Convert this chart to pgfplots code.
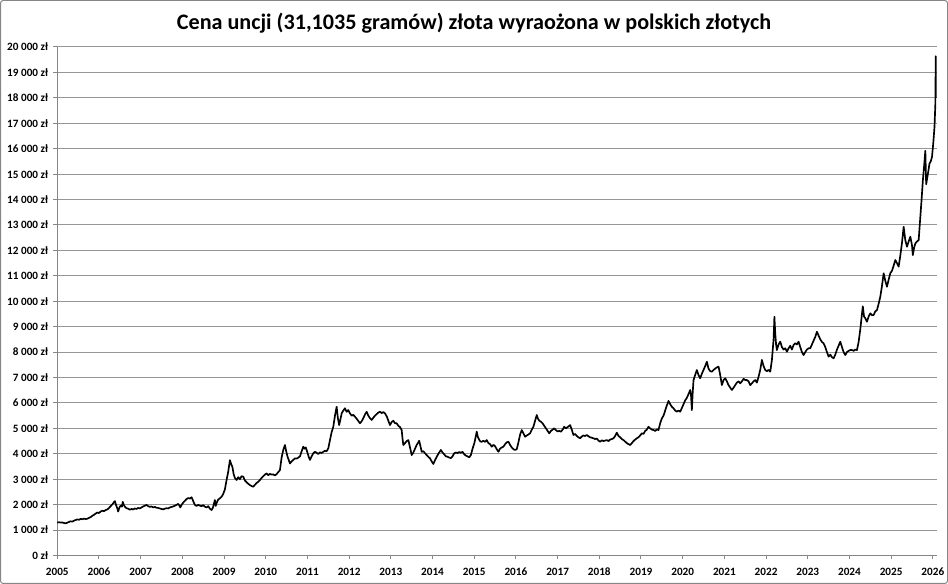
\documentclass[border=0pt]{standalone}
\usepackage{fontspec}
\setmainfont{Carlito}
\usepackage{pgfplots}
\pgfplotsset{compat=1.18}
\definecolor{gridgray}{RGB}{150,150,150}
\definecolor{axisgray}{RGB}{134,134,134}
\definecolor{bordergray}{RGB}{134,134,134}
\pgfplotstableread{
x y
2005.00 1290
2005.04 1310
2005.08 1295
2005.12 1300
2005.16 1280
2005.20 1265
2005.24 1290
2005.28 1320
2005.32 1345
2005.36 1330
2005.40 1370
2005.44 1395
2005.48 1420
2005.52 1405
2005.56 1440
2005.60 1425
2005.64 1450
2005.68 1435
2005.72 1445
2005.76 1480
2005.80 1510
2005.84 1560
2005.88 1600
2005.92 1650
2005.96 1690
2006.00 1670
2006.04 1730
2006.08 1760
2006.12 1740
2006.16 1790
2006.20 1810
2006.24 1870
2006.28 1940
2006.32 2010
2006.36 2100
2006.38 2140
2006.41 1980
2006.44 1850
2006.46 1730
2006.49 1890
2006.52 1960
2006.55 1920
2006.57 2110
2006.60 1970
2006.63 1900
2006.66 1860
2006.70 1840
2006.74 1800
2006.78 1830
2006.82 1810
2006.86 1850
2006.90 1830
2006.94 1870
2006.98 1850
2007.02 1890
2007.06 1930
2007.10 1960
2007.14 1990
2007.18 1940
2007.22 1910
2007.26 1930
2007.30 1890
2007.34 1910
2007.38 1880
2007.42 1870
2007.46 1850
2007.50 1830
2007.54 1815
2007.58 1840
2007.62 1860
2007.66 1850
2007.70 1890
2007.74 1910
2007.78 1930
2007.82 1960
2007.86 1990
2007.90 2030
2007.93 1960
2007.95 1890
2007.98 1990
2008.02 2080
2008.06 2150
2008.10 2220
2008.14 2260
2008.18 2240
2008.22 2290
2008.25 2180
2008.28 2060
2008.30 1990
2008.34 1950
2008.38 1990
2008.42 1960
2008.46 1940
2008.50 1980
2008.54 1920
2008.58 1890
2008.62 1940
2008.66 1840
2008.70 1790
2008.73 1870
2008.76 2050
2008.78 2180
2008.80 1950
2008.83 2100
2008.86 2200
2008.90 2250
2008.94 2310
2008.98 2420
2009.02 2600
2009.06 2970
2009.10 3300
2009.14 3750
2009.17 3600
2009.20 3480
2009.23 3200
2009.26 3050
2009.30 2970
2009.34 3080
2009.38 3000
2009.42 3120
2009.46 3100
2009.50 2950
2009.54 2880
2009.58 2820
2009.62 2770
2009.66 2730
2009.70 2705
2009.74 2780
2009.78 2850
2009.82 2900
2009.86 2970
2009.90 3050
2009.94 3120
2009.98 3180
2010.02 3230
2010.06 3160
2010.10 3210
2010.14 3180
2010.18 3190
2010.22 3150
2010.26 3200
2010.30 3280
2010.34 3360
2010.38 3850
2010.42 4150
2010.46 4345
2010.49 4100
2010.52 3900
2010.55 3760
2010.58 3620
2010.62 3700
2010.66 3760
2010.70 3820
2010.74 3810
2010.78 3850
2010.82 3900
2010.86 4100
2010.90 4280
2010.93 4200
2010.96 4250
2011.00 4050
2011.03 3880
2011.06 3760
2011.10 3900
2011.14 4020
2011.18 4080
2011.22 4040
2011.26 3990
2011.30 4060
2011.34 4030
2011.38 4080
2011.42 4120
2011.46 4100
2011.50 4215
2011.54 4540
2011.58 4850
2011.62 5065
2011.66 5500
2011.70 5850
2011.73 5400
2011.76 5130
2011.79 5350
2011.82 5590
2011.86 5700
2011.90 5790
2011.94 5650
2011.98 5720
2012.02 5590
2012.06 5500
2012.10 5530
2012.14 5460
2012.18 5380
2012.22 5290
2012.26 5200
2012.30 5280
2012.34 5400
2012.38 5550
2012.42 5655
2012.46 5500
2012.50 5400
2012.54 5330
2012.58 5420
2012.62 5500
2012.66 5560
2012.70 5620
2012.74 5655
2012.78 5600
2012.82 5640
2012.86 5590
2012.90 5480
2012.94 5300
2012.98 5130
2013.02 5250
2013.06 5300
2013.10 5200
2013.14 5200
2013.18 5100
2013.22 5050
2013.26 4935
2013.28 4600
2013.30 4345
2013.34 4420
2013.38 4500
2013.42 4540
2013.46 4250
2013.50 3950
2013.54 4050
2013.58 4200
2013.62 4350
2013.66 4450
2013.68 4515
2013.71 4300
2013.74 4080
2013.78 4100
2013.82 4020
2013.86 3950
2013.90 3880
2013.94 3820
2013.98 3700
2014.02 3600
2014.06 3750
2014.10 3880
2014.14 4000
2014.18 4100
2014.20 4150
2014.24 4050
2014.28 3980
2014.32 3900
2014.36 3885
2014.40 3850
2014.44 3830
2014.48 3900
2014.52 4020
2014.56 4050
2014.60 4030
2014.64 4070
2014.68 4040
2014.72 4080
2014.76 3980
2014.80 3930
2014.84 3900
2014.88 3860
2014.92 3950
2014.96 4200
2015.00 4400
2015.04 4700
2015.06 4870
2015.09 4650
2015.12 4550
2015.15 4480
2015.18 4475
2015.22 4510
2015.26 4470
2015.30 4540
2015.34 4420
2015.38 4380
2015.42 4280
2015.46 4350
2015.50 4300
2015.54 4180
2015.58 4080
2015.62 4200
2015.66 4250
2015.70 4280
2015.74 4380
2015.78 4450
2015.82 4475
2015.86 4350
2015.90 4250
2015.94 4180
2015.98 4150
2016.02 4180
2016.06 4450
2016.10 4750
2016.14 4935
2016.18 4800
2016.22 4670
2016.26 4720
2016.30 4760
2016.34 4805
2016.38 4950
2016.42 5065
2016.46 5300
2016.50 5525
2016.53 5380
2016.56 5300
2016.60 5260
2016.64 5200
2016.68 5100
2016.72 5000
2016.76 4900
2016.80 4805
2016.84 4900
2016.88 4950
2016.92 5000
2016.96 4930
2017.00 4880
2017.04 4900
2017.08 4870
2017.12 4950
2017.16 5065
2017.20 5000
2017.24 5050
2017.28 5100
2017.30 5130
2017.34 4950
2017.38 4740
2017.42 4780
2017.46 4700
2017.50 4650
2017.54 4610
2017.58 4680
2017.62 4720
2017.66 4700
2017.70 4740
2017.74 4690
2017.78 4650
2017.82 4630
2017.86 4610
2017.90 4580
2017.94 4600
2017.98 4520
2018.02 4475
2018.06 4530
2018.10 4500
2018.14 4520
2018.18 4540
2018.22 4500
2018.26 4560
2018.30 4580
2018.34 4610
2018.38 4700
2018.42 4830
2018.46 4700
2018.50 4650
2018.54 4580
2018.58 4540
2018.62 4480
2018.66 4420
2018.70 4380
2018.74 4345
2018.78 4420
2018.82 4500
2018.86 4560
2018.90 4610
2018.94 4650
2018.98 4720
2019.02 4805
2019.06 4780
2019.10 4900
2019.14 4950
2019.18 5065
2019.22 5000
2019.26 4950
2019.30 4935
2019.34 4900
2019.38 4960
2019.42 4935
2019.46 5200
2019.50 5390
2019.54 5500
2019.58 5700
2019.62 5900
2019.66 6080
2019.70 5950
2019.74 5850
2019.78 5790
2019.82 5700
2019.86 5660
2019.90 5700
2019.94 5655
2019.98 5800
2020.02 5950
2020.06 6100
2020.10 6200
2020.14 6350
2020.18 6510
2020.20 6300
2020.22 5720
2020.24 6400
2020.26 6900
2020.30 7100
2020.34 7295
2020.38 7100
2020.42 6970
2020.46 7150
2020.50 7300
2020.54 7450
2020.58 7620
2020.62 7350
2020.66 7250
2020.70 7230
2020.74 7300
2020.78 7350
2020.82 7400
2020.86 7425
2020.90 7100
2020.94 6705
2020.98 6900
2021.02 6970
2021.06 6850
2021.10 6700
2021.14 6600
2021.18 6510
2021.22 6600
2021.26 6700
2021.30 6800
2021.34 6850
2021.38 6770
2021.42 6850
2021.46 6950
2021.50 6900
2021.54 6900
2021.58 6850
2021.62 6700
2021.66 6770
2021.70 6850
2021.74 6900
2021.78 6800
2021.82 7030
2021.86 7300
2021.90 7690
2021.94 7450
2021.98 7295
2022.02 7250
2022.06 7300
2022.10 7230
2022.14 7690
2022.18 8500
2022.20 9390
2022.22 8740
2022.24 8300
2022.26 8080
2022.30 8300
2022.34 8410
2022.38 8200
2022.42 8100
2022.46 8150
2022.50 8015
2022.54 8150
2022.58 8250
2022.62 8100
2022.66 8280
2022.70 8350
2022.74 8300
2022.78 8410
2022.82 8200
2022.86 8000
2022.90 7885
2022.94 8000
2022.98 8100
2023.02 8150
2023.06 8150
2023.10 8300
2023.14 8450
2023.18 8600
2023.22 8800
2023.26 8650
2023.30 8500
2023.34 8400
2023.38 8345
2023.42 8200
2023.46 8000
2023.50 7820
2023.54 7900
2023.58 7800
2023.62 7755
2023.66 7900
2023.70 8100
2023.74 8250
2023.78 8410
2023.82 8200
2023.86 8000
2023.90 7885
2023.94 8000
2023.98 8050
2024.02 8080
2024.06 8080
2024.10 8050
2024.14 8100
2024.18 8080
2024.22 8400
2024.26 8900
2024.30 9500
2024.32 9800
2024.35 9400
2024.38 9330
2024.42 9195
2024.46 9400
2024.50 9525
2024.54 9450
2024.58 9460
2024.62 9600
2024.66 9655
2024.70 9900
2024.74 10180
2024.78 10600
2024.82 11100
2024.86 10800
2024.90 10570
2024.94 10850
2024.98 11100
2025.02 11200
2025.06 11400
2025.10 11620
2025.14 11500
2025.18 11360
2025.22 11800
2025.26 12300
2025.30 12930
2025.34 12400
2025.38 12145
2025.42 12350
2025.46 12540
2025.50 12200
2025.52 11815
2025.55 12100
2025.58 12275
2025.62 12350
2025.66 12405
2025.70 13320
2025.73 14000
2025.76 14740
2025.80 15500
2025.82 15920
2025.84 14600
2025.87 14900
2025.90 15200
2025.92 15420
2025.95 15500
2025.98 15680
2026.01 16210
2026.04 16860
2026.06 17750
2026.07 19640
2026.072 18000
}\gold
\begin{document}
\begin{tikzpicture}
\useasboundingbox (0pt,0pt) rectangle (711pt,438pt);
\draw[bordergray, line width=0.75pt, rounded corners=2pt] (0.375pt,0.375pt) rectangle (710.625pt,437.625pt);
\node[anchor=base, inner sep=0pt, font=\fontsize{16.6}{19}\selectfont\bfseries] at (355.5pt,415.5pt)
  {Cena uncji (31,1035 gramów) złota wyraożona w polskich złotych};
\begin{axis}[
  at={(42.975pt,21.375pt)}, anchor=south west,
  scale only axis, width=659.775pt, height=381.375pt,
  xmin=2005, xmax=2026.1, ymin=0, ymax=20000,
  scaled y ticks=false, scaled x ticks=false,
  axis lines*=left,
  axis line style={axisgray, line width=0.75pt},
  every tick/.style={axisgray, line width=0.75pt},
  tick align=outside, major tick length=3pt,
  xtick={2005,2006,...,2026},
  xticklabels={2005,2006,2007,2008,2009,2010,2011,2012,2013,2014,2015,2016,2017,2018,2019,2020,2021,2022,2023,2024,2025,2026},
  ytick={0,1000,...,20000},
  yticklabels={0 zł,1 000 zł,2 000 zł,3 000 zł,4 000 zł,5 000 zł,6 000 zł,7 000 zł,8 000 zł,9 000 zł,10 000 zł,11 000 zł,12 000 zł,13 000 zł,14 000 zł,15 000 zł,16 000 zł,17 000 zł,18 000 zł,19 000 zł,20 000 zł},
  ymajorgrids, grid style={gridgray, line width=0.75pt},
  tick label style={font=\fontsize{8.4}{10}\selectfont\bfseries, inner sep=0pt},
  yticklabel style={anchor=east, xshift=-3.75pt},
  xticklabel style={anchor=base, yshift=-12.25pt},
  clip=false,
]
\addplot[black, line width=1.25pt, line join=round] table[x=x,y=y] {\gold};
\end{axis}
\end{tikzpicture}
\end{document}
